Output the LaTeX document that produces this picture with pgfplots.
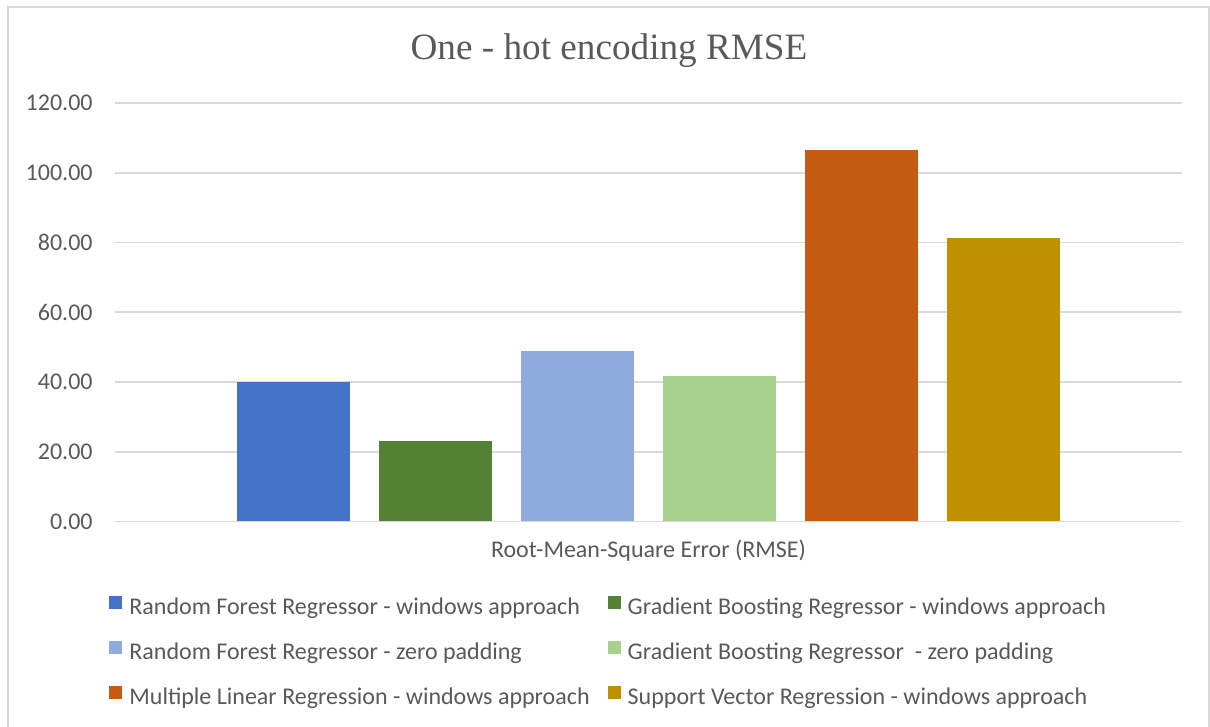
\documentclass[border=0pt]{standalone}
\usepackage{fontspec}
\setmainfont{Carlito}
\newfontfamily\titlefont{Liberation Serif}
\usepackage{pgfplots}
\pgfplotsset{compat=1.18}
\definecolor{txt}{HTML}{595959}
\definecolor{gridc}{HTML}{D9D9D9}
\definecolor{c1}{HTML}{4472C4}
\definecolor{c2}{HTML}{548235}
\definecolor{c3}{HTML}{8FAADC}
\definecolor{c4}{HTML}{A9D18E}
\definecolor{c5}{HTML}{C55A11}
\definecolor{c6}{HTML}{BF9000}
\pgfplotsset{sqleg/.style={legend image code/.code={\fill[##1] (0pt,0.25pt) rectangle (6.5pt,6.75pt);}}}
\begin{document}
\begin{tikzpicture}
\useasboundingbox (-57.5pt,-102.75pt) rectangle (547.5pt,260.75pt);
\draw[gridc, line width=0.9pt] (-53.5pt,-110pt) -- (-53.5pt,257.25pt) -- (547pt,257.25pt) -- (547pt,-110pt);
\node[font=\titlefont\fontsize{18.6}{22}\selectfont, text=txt] at (247pt,235.25pt) {One - hot encoding RMSE};
\begin{axis}[
  at={(0pt,0pt)}, anchor=south west,
  scale only axis, width=533.5pt, height=209.25pt,
  xmin=-0.5, xmax=0.5, ymin=0, ymax=120,
  ytick={0,20,...,120},
  xtick=\empty,
  ymajorgrids, grid style={gridc, line width=0.85pt},
  axis line style={draw=none},
  major tick length=0pt,
  font=\fontsize{12}{14}\selectfont,
  /pgf/number format/assume math mode=true,
  yticklabel={\pgfmathprintnumber[fixed,fixed zerofill,precision=2]{\tick}},
  yticklabel style={text=txt, inner sep=0pt, xshift=-11pt},
  xlabel={Root-Mean-Square Error (RMSE)},
  xlabel style={at={(axis description cs:0.5,0)}, anchor=center, yshift=-14.75pt, text=txt, inner sep=0pt},
  legend columns=2,
  legend style={at={(axis description cs:0,0)}, anchor=north west, xshift=-6pt, yshift=-35pt,
    draw=none, fill=none, text=txt, font=\fontsize{12}{14}\selectfont,
    nodes={inner sep=0pt, text height=8.5pt, text depth=3pt},
    row sep=10pt,
    /tikz/every odd column/.append style={column sep=3.5pt},
    /tikz/every even column/.append style={column sep=9pt}},
  legend cell align=left,
]
\addplot[ybar, fill=c1, draw=none, bar width=0.1059, bar shift=-0.3328, sqleg] coordinates {(0,40.0)};
\addlegendentry{Random Forest Regressor - windows approach}
\addplot[ybar, fill=c2, draw=none, bar width=0.1059, bar shift=-0.1997, sqleg] coordinates {(0,23.0)};
\addlegendentry{Gradient Boosting Regressor - windows approach}
\addplot[ybar, fill=c3, draw=none, bar width=0.1059, bar shift=-0.0666, sqleg] coordinates {(0,48.8)};
\addlegendentry{Random Forest Regressor - zero padding}
\addplot[ybar, fill=c4, draw=none, bar width=0.1059, bar shift=0.0666, sqleg] coordinates {(0,41.7)};
\addlegendentry{Gradient Boosting Regressor \ - zero padding}
\addplot[ybar, fill=c5, draw=none, bar width=0.1059, bar shift=0.1997, sqleg] coordinates {(0,106.5)};
\addlegendentry{Multiple Linear Regression - windows approach}
\addplot[ybar, fill=c6, draw=none, bar width=0.1059, bar shift=0.3328, sqleg] coordinates {(0,81.3)};
\addlegendentry{Support Vector Regression - windows approach}
\end{axis}
\end{tikzpicture}
\end{document}
